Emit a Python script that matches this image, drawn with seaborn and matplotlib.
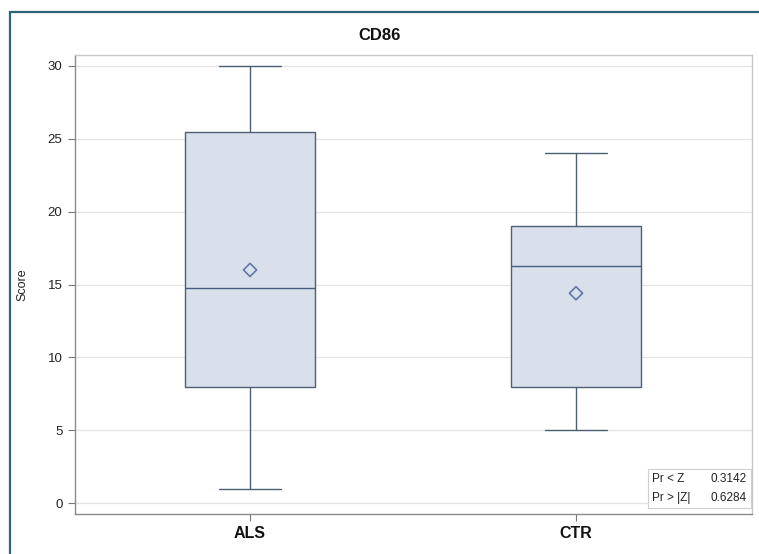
import matplotlib
matplotlib.use("Agg")
import matplotlib.pyplot as plt
import seaborn as sns
import pandas as pd
from matplotlib.patches import Rectangle

# Summary statistics per group
groups = ["ALS", "CTR"]
whisker_low = [1, 5]
q1 = [8, 8]
median = [14.75, 16.25]
q3 = [25.5, 19]
whisker_high = [30, 24]
mean = [16.0, 14.4]

# Wilcoxon test results
test_labels = ["Pr < Z", "Pr > |Z|"]
test_values = ["0.3142", "0.6284"]

sns.set_theme(style="white")
plt.rcParams["font.family"] = ["Liberation Sans", "DejaVu Sans"]

fig = plt.figure(figsize=(7.59, 5.54), dpi=100)
ax = fig.add_axes([75 / 759, 40 / 554, 677 / 759, 459 / 554])

edge = "#4f5f73"
fill = "#d9e0ec"
stats = [
    dict(label=g, whislo=lo, q1=a, med=m, q3=b, whishi=hi, fliers=[])
    for g, lo, a, m, b, hi in zip(groups, whisker_low, q1, median, q3, whisker_high)
]
ax.bxp(
    stats, positions=range(len(groups)), widths=0.40, patch_artist=True,
    showfliers=False,
    boxprops=dict(facecolor=fill, edgecolor=edge, linewidth=1.0),
    medianprops=dict(color="#465d7e", linewidth=1.0),
    whiskerprops=dict(color=edge, linewidth=1.0),
    capprops=dict(color=edge, linewidth=1.0),
    capwidths=0.19,
    zorder=3,
)

means_df = pd.DataFrame({"pos": list(range(len(groups))), "mean": mean})
sns.scatterplot(
    data=means_df, x="pos", y="mean", ax=ax, marker="D", s=45,
    facecolor="none", edgecolor="#6478a8", linewidth=1.2, zorder=5, legend=False,
)

ax.set_xlim(-0.537, 1.54)
ax.set_ylim(-0.75, 30.75)
ax.set_yticks([0, 5, 10, 15, 20, 25, 30])
ax.set_xticks(range(len(groups)))
ax.set_xticklabels(groups, fontsize=11.5, fontweight="bold", color="#111111")
ax.tick_params(axis="y", labelsize=9.5, colors="#222222", length=5, width=0.8,
               color="#777777", left=True, pad=4)
ax.tick_params(axis="x", length=5, width=0.8, color="#777777", bottom=True, pad=4)
ax.yaxis.grid(True, color="#e3e3e3", linewidth=0.9, zorder=0)
ax.xaxis.grid(False)
ax.set_axisbelow(True)
ax.set_xlabel("")
ax.set_ylabel("Score", fontsize=9, color="#222222", labelpad=14)

for side in ["left", "bottom"]:
    ax.spines[side].set_color("#8a8a8a")
    ax.spines[side].set_linewidth(1.0)
for side in ["top", "right"]:
    ax.spines[side].set_color("#c8c8c8")
    ax.spines[side].set_linewidth(1.0)

fig.text(380 / 759, 1 - 36 / 554, "CD86", ha="center", va="center",
         fontsize=12, fontweight="bold", color="#111111")

# Test result inset, lower right corner of the plot area
inset = ax.inset_axes([573 / 677, 6 / 459, 103 / 677, 39 / 459])
inset.set_xticks([])
inset.set_yticks([])
inset.set_xlim(0, 1)
inset.set_ylim(0, 1)
inset.set_facecolor("white")
inset.grid(False)
for s in inset.spines.values():
    s.set_color("#d0d0d0")
    s.set_linewidth(0.8)
for i, (lab, val) in enumerate(zip(test_labels, test_values)):
    y = 0.74 - i * 0.48
    inset.text(0.04, y, lab, fontsize=8.5, va="center", ha="left", color="#222222")
    inset.text(0.96, y, val, fontsize=8.5, va="center", ha="right", color="#222222")

# Outer frame
fig.patches.append(Rectangle((9.5 / 759, -0.05), 1.1, 1 - 11.5 / 554 + 0.05,
                             transform=fig.transFigure, fill=False,
                             edgecolor="#2c6478", linewidth=1.6))

fig.savefig("out.png", dpi=100)
